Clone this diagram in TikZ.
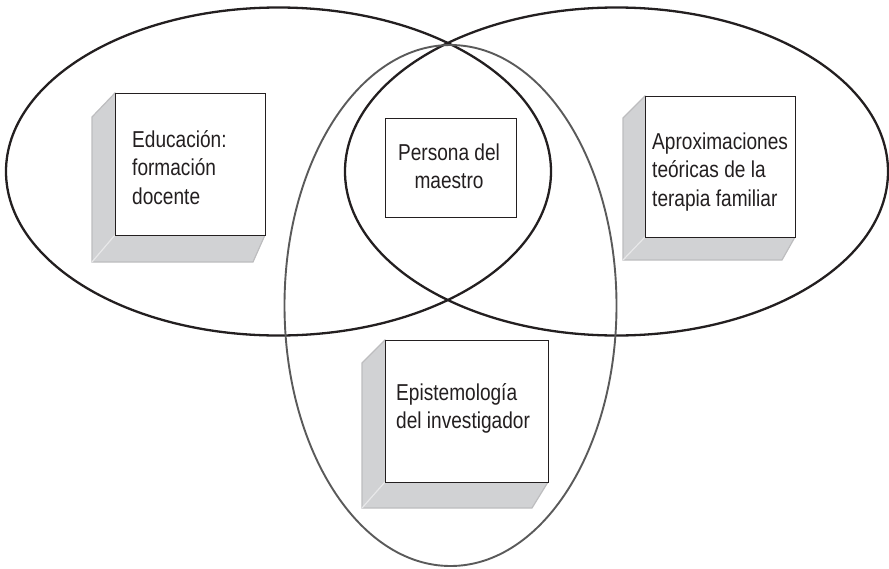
\documentclass[tikz,border=0pt]{standalone}
\usepackage{fontspec}
\setmainfont[FakeStretch=0.83]{Liberation Sans}
\definecolor{inkblack}{HTML}{231F20}
\definecolor{ringgray}{HTML}{5A5A5A}
\definecolor{bevelfill}{HTML}{D1D2D4}
\definecolor{beveledge}{HTML}{BDBDBF}
\definecolor{bevelcrease}{HTML}{E8E8E9}
\begin{document}
\begin{tikzpicture}[x=1pt,y=-1pt,
  ring/.style={line width=2.3pt, draw=inkblack},
  grayring/.style={line width=1.9pt, draw=ringgray},
  bevel/.style={fill=bevelfill, draw=beveledge, line width=1.2pt, line join=miter},
  crease/.style={draw=bevelcrease, line width=1.2pt},
  frontbox/.style={draw=inkblack, fill=white, line width=1.4pt, rectangle,
    inner sep=0pt, anchor=north west},
  boxtext/.style={text=inkblack, inner sep=0pt, font=\fontsize{23}{28.5}\selectfont},
]
\useasboundingbox (0,0) rectangle (889,568);

% the three overlapping fields
\draw[ring] (278.5,171.5) ellipse [x radius=272.5, y radius=164];
\draw[ring] (616.5,171.5) ellipse [x radius=271.5, y radius=164];
\draw[grayring] (450.5,305.5) ellipse [x radius=166, y radius=260.5];

% left box: Educación (text anchored on the baseline of its last line)
\fill[bevel] (115,93) -- (92,117) -- (92,262) -- (253,262) -- (265,235) -- cycle;
\draw[crease] (115,235) -- (92,262);
\node[frontbox, minimum width=150pt, minimum height=142pt] (edu) at (115,93) {};
\node[boxtext, align=left, anchor=base west] (edutext) at (132,204)
  {Educación:\\formación\\docente};

% right box: Aproximaciones
\fill[bevel] (645,96) -- (623,118) -- (623,260) -- (782,260) -- (795,237) -- cycle;
\draw[crease] (645,237) -- (623,260);
\node[frontbox, minimum width=150pt, minimum height=141pt] (aprox) at (645,96) {};
\node[boxtext, align=left, anchor=base west] (aproxtext) at (652,206)
  {Aproximaciones\\teóricas de la\\terapia familiar};

% bottom box: Epistemología
\fill[bevel] (385,340) -- (362,363) -- (362,508) -- (532,508) -- (548,482) -- cycle;
\draw[crease] (385,482) -- (362,508);
\node[frontbox, minimum width=163pt, minimum height=142pt] (epis) at (385,340) {};
\node[boxtext, align=left, anchor=base west] (epistext) at (396,428.5)
  {Epistemología\\del investigador};

% centre box: Persona del maestro
\node[frontbox, line width=1.2pt, minimum width=131pt, minimum height=99pt] (persona) at (385,118) {};
\node[boxtext, align=center, anchor=base] (personatext) at (449,188.5)
  {Persona del\\maestro};
\end{tikzpicture}
\end{document}
